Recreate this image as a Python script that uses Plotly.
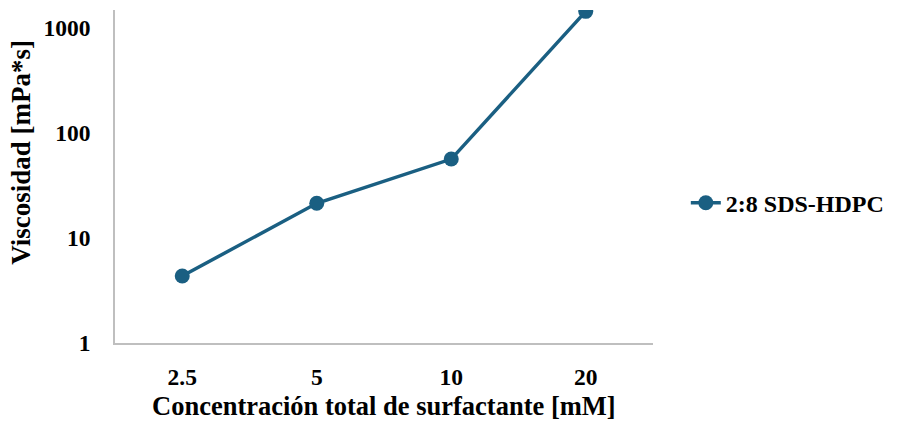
import plotly.graph_objects as go

# Viscosity vs total surfactant concentration (2:8 SDS-HDPC)
concentraciones = ["2.5", "5", "10", "20"]
viscosidad = [4.33, 21.3, 56.0, 1420]
serie = "2:8 SDS-HDPC"
yticks = [1, 10, 100, 1000]

color = "#1a5f82"
font_family = "Liberation Serif"

fig = go.Figure()
fig.add_trace(go.Scatter(
    x=concentraciones,
    y=viscosidad,
    mode="lines+markers",
    name=serie,
    line=dict(color=color, width=3.5),
    marker=dict(color=color, size=15),
))

fig.update_layout(
    width=901,
    height=421,
    margin=dict(l=115, r=248, t=10, b=78),
    paper_bgcolor="white",
    plot_bgcolor="white",
    font=dict(family=font_family, size=23, color="black"),
    showlegend=True,
    legend=dict(
        x=1.061, y=0.42, xanchor="left", yanchor="middle",
        font=dict(family=font_family, size=24, color="black", weight="bold"),
        bgcolor="rgba(0,0,0,0)",
    ),
    xaxis=dict(
        type="category",
        range=[-0.5, 3.5],
        showgrid=False,
        showline=True,
        linecolor="#bfbfbf",
        linewidth=1.5,
        ticks="",
        ticklabelstandoff=12,
        tickfont=dict(family=font_family, size=23.5, color="black", weight="bold"),
        zeroline=False,
    ),
    yaxis=dict(
        type="log",
        range=[0, 3.165],
        tickvals=yticks,
        ticktext=[str(v) for v in yticks],
        showgrid=False,
        showline=True,
        linecolor="#bfbfbf",
        linewidth=1.5,
        ticks="",
        ticklabelstandoff=18,
        tickfont=dict(family=font_family, size=23.5, color="black", weight="bold"),
        zeroline=False,
    ),
    annotations=[
        dict(
            text="<b>Concentración total de surfactante [mM]</b>",
            xref="paper", yref="paper", x=0.5, y=-0.19,
            xanchor="center", yanchor="middle", showarrow=False,
            font=dict(family=font_family, size=26.5, color="black"),
        ),
        dict(
            text="<b>Viscosidad [mPa*s]</b>",
            xref="paper", yref="paper", x=-0.175, y=0.574,
            xanchor="center", yanchor="middle", showarrow=False,
            textangle=-90,
            font=dict(family=font_family, size=27, color="black"),
        ),
    ],
)

fig.write_html("out.html")
